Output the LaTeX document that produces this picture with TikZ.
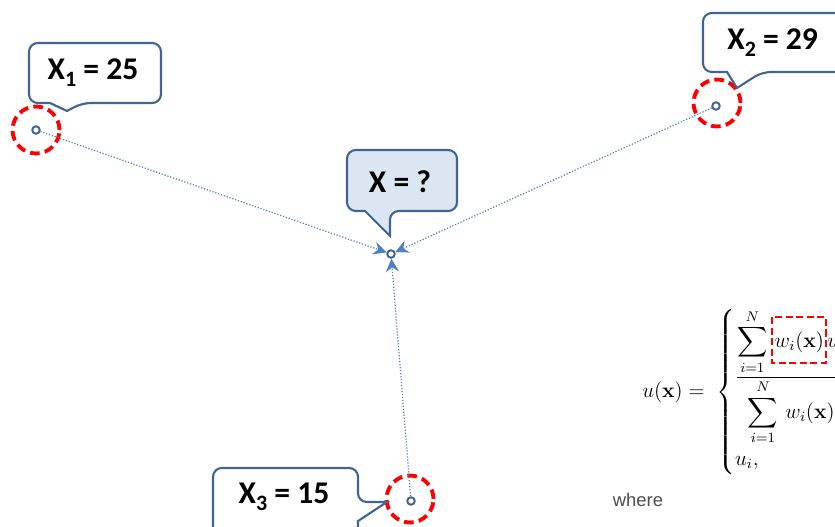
\documentclass[tikz,border=0pt]{standalone}
\usepackage{amsmath, amssymb}
\usepackage[no-math]{fontspec}
\newfontfamily\calfont{Carlito}
\newfontfamily\wherefont{Liberation Sans}
\usepackage{xcolor}
\usetikzlibrary{arrows.meta}

\definecolor{calloutline}{RGB}{65,100,145}
\definecolor{calloutfill}{RGB}{220,230,242}
\definecolor{linkblue}{RGB}{79,129,189}
\newcommand{\lowidx}[1]{\raisebox{-0.45ex}{\fontsize{12.5}{12}\selectfont #1}}

\begin{document}
\begin{tikzpicture}[
  x=0.02cm, y=-0.02cm,
  pt/.style = {circle, draw=calloutline, line width=1.1pt, fill=white,
               inner sep=0pt, minimum size=0.15cm},
  target/.style = {circle, draw=red, line width=2.2pt, dash pattern=on 5.5pt off 3pt,
                   inner sep=0pt, minimum size=0.94cm},
  link/.style = {densely dotted, draw=linkblue, line width=0.7pt,
                 -{Stealth[length=7.5pt, width=7.5pt, inset=2.5pt]}},
  callout/.style = {draw=calloutline, line width=1.2pt, fill=white},
  lbl/.style = {font=\calfont\fontsize{18}{20}\selectfont\bfseries, inner sep=0pt},
  hl/.style = {draw=red, line width=1.6pt, dash pattern=on 4pt off 2pt}
]
  \useasboundingbox (0,0) rectangle (835,527);
  \clip (0,0) rectangle (835,527);

  \node[target] (r1) at (36,130) {};
  \node[target] (r2) at (717,103) {};
  \node[target] (r3) at (410,499) {};

  \node[pt] (p1) at (36,130) {};
  \node[pt] (p2) at (716,106) {};
  \node[pt] (p3) at (411,501) {};
  \node[pt] (px) at (391,254) {};

  \draw[link] (p1) -- (px);
  \draw[link] (p2) -- (px);
  \draw[link] (p3) -- (px);

  \draw[callout] (50,103) [rounded corners=5pt] -- (29,103) -- (29,43) -- (161,43)
    -- (161,103) -- (82,103) [sharp corners] -- (67,111) -- cycle;
  \draw[callout] (727,72) [rounded corners=5pt] -- (703,72) -- (703,13) -- (870,13)
    -- (870,72) -- (762,72) [sharp corners] -- (737,88) -- cycle;
  \draw[callout, fill=calloutfill] (365,211) [rounded corners=5pt] -- (347,211) -- (347,150)
    -- (457,150) -- (457,211) -- (390,211) [sharp corners] -- (390,236) -- cycle;
  \draw[callout] (358,521) [rounded corners=5pt] -- (358,560) -- (213,560) -- (213,468)
    -- (358,468) -- (358,502) [sharp corners] -- (387,502) -- cycle;

  \node[lbl] (l1) at (93,73) {X\lowidx{1} = 25};
  \node[lbl, anchor=west] (l2) at (727,43) {X\lowidx{2} = 29};
  \node[lbl] (lx) at (400,182) {X = ?};
  \node[lbl] (l3) at (284,497) {X\lowidx{3} = 15};

  \node[anchor=west, inner sep=0pt, font=\fontsize{12}{14}\selectfont] (ux) at (642,392)
    {$u(\mathbf{x}) = \;\begin{cases}
       \dfrac{\displaystyle\sum_{i=1}^{N}\, w_i(\mathbf{x})\, u_i}{\displaystyle\sum_{i=1}^{N}\, w_i(\mathbf{x})}, \\[2pt]
       u_i,
     \end{cases}$};
  \draw[hl] (772,317) rectangle (826,363);

  \node[font=\wherefont\fontsize{10.5}{12}\selectfont, text=black!70] (where) at (638,500) {where};
\end{tikzpicture}
\end{document}
